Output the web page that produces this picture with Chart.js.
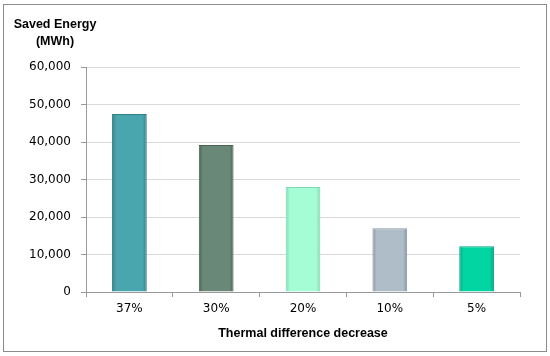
<!DOCTYPE html>
<html>
<head>
<meta charset="utf-8">
<script src="https://cdn.jsdelivr.net/npm/chart.js@4/dist/chart.umd.min.js"></script>
<style>
    body { margin: 0; background: #fff; }
    #wrap { position: relative; width: 550px; height: 356px; }
    #frame {
        position: absolute; left: 3px; top: 4px; width: 542px; height: 346px;
        border: 1px solid #8c8c8c; pointer-events: none;
    }
    #chart { position: absolute; left: 0; top: 0; }
</style>
</head>
<body>
<div id="wrap">
    <canvas id="chart" width="550" height="356"></canvas>
    <div id="frame"></div>
</div>
<script>
// data
const categories = ['37%', '30%', '20%', '10%', '5%'];
const savedEnergy = [47500, 39200, 28000, 17000, 12200];
const yTicks = [0, 10000, 20000, 30000, 40000, 50000, 60000];

const barColors = ['#4aa6ae', '#6a8878', '#a5fdd6', '#afbdc9', '#02d4a2'];
const barBorders = ['#2f7f86', '#4a6356', '#7fd6b0', '#8996a2', '#00a57e'];

const font = { family: 'DejaVu Sans', size: 12 };
const boldFont = { family: 'Liberation Sans', size: 12.5, weight: 'bold' };

// bevelled look: darker at the sides of each bar
function barFill(ctx) {
    const chart = ctx.chart;
    const i = ctx.dataIndex;
    const xs = chart.scales.x;
    if (!chart.chartArea || !xs || xs.width === 0) return barColors[i];
    const cx = xs.getPixelForValue(i);
    const half = xs.width / categories.length * 0.4 / 2;
    const g = chart.ctx.createLinearGradient(cx - half, 0, cx + half, 0);
    g.addColorStop(0, barBorders[i]);
    g.addColorStop(0.12, barColors[i]);
    g.addColorStop(0.88, barColors[i]);
    g.addColorStop(1, barBorders[i]);
    return g;
}

// y-axis title drawn top left, each line centred
const yTitle = {
    id: 'yTitle',
    afterDraw(chart) {
        const ctx = chart.ctx;
        ctx.save();
        ctx.font = 'bold 12.5px "Liberation Sans"';
        ctx.fillStyle = '#000';
        ctx.textAlign = 'center';
        ctx.textBaseline = 'middle';
        ctx.fillText('Saved Energy', 55, 25);
        ctx.fillText('(MWh)', 55, 42);
        ctx.restore();
    }
};

new Chart(document.getElementById('chart'), {
    type: 'bar',
    data: {
        labels: categories,
        datasets: [{
            data: savedEnergy,
            backgroundColor: barFill,
            borderColor: barBorders,
            borderWidth: 1,
            barPercentage: 0.4,
            categoryPercentage: 1
        }]
    },
    options: {
        responsive: false,
        animation: false,
        layout: { padding: { left: 0, top: 67, right: 30, bottom: 0 } },
        plugins: { legend: { display: false }, tooltip: { enabled: false } },
        scales: {
            x: {
                afterFit: s => { s.height = 64; },
                grid: { offset: true, drawOnChartArea: false, drawTicks: true, tickLength: 5, color: '#999' },
                border: { color: '#999' },
                ticks: { color: '#000', font: font, padding: 5 },
                title: {
                    display: true, text: 'Thermal difference decrease', color: '#000',
                    font: boldFont,
                    padding: { top: 8, bottom: 15 }
                }
            },
            y: {
                min: 0, max: 60000,
                afterFit: s => { s.width = 86; },
                afterBuildTicks: s => { s.ticks = yTicks.map(v => ({ value: v })); },
                grid: { color: '#d9d9d9', tickLength: 5, tickColor: '#999' },
                border: { color: '#999' },
                ticks: {
                    color: '#000', font: font, padding: 10,
                    callback: v => v.toLocaleString('en-US')
                }
            }
        }
    },
    plugins: [yTitle]
});
</script>
</body>
</html>
